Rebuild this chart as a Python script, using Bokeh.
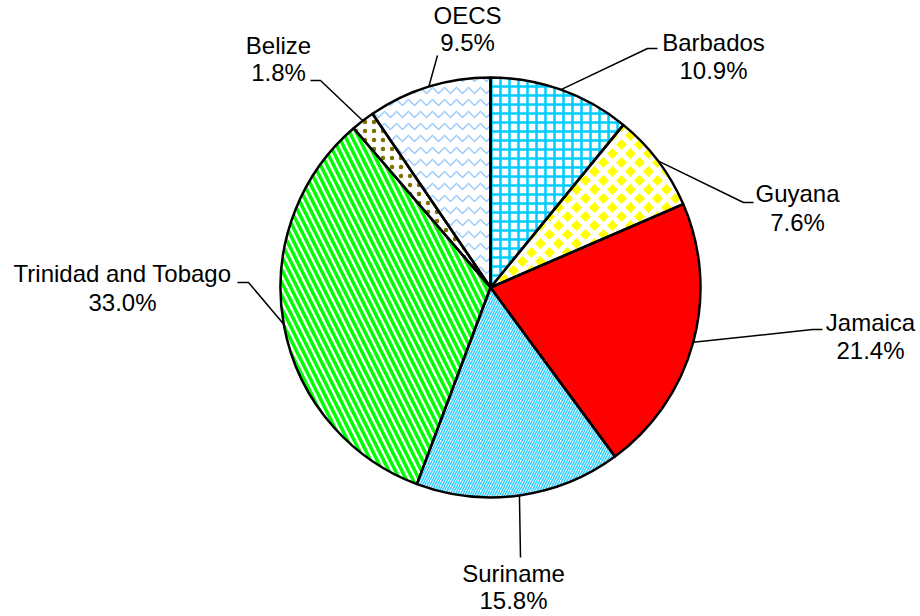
import math
from bokeh.plotting import figure
from bokeh.models import Range1d, ColumnDataSource
from bokeh.core.properties import value
from bokeh.embed import file_html
from bokeh.resources import INLINE

# ---- data ----
countries = ["Barbados", "Guyana", "Jamaica", "Suriname", "Trinidad and Tobago", "Belize", "OECS"]
shares = [10.9, 7.6, 21.4, 15.8, 33.0, 1.8, 9.5]

# ---- styles ----
fills = ["white", "#FFFF00", "#FF0000", "white", "white", "white", "white"]
hatches = ["+", "x", " ", "/", "\\", ".", "v"]
hatch_colors = ["#00CCFF", "white", "#FF0000", "#33CCFF", "#00FF00", "#807000", "#99CCFF"]
hatch_scales = [9, 18, 8, 5, 13, 9, 12]
hatch_weights = [2.5, 5, 1, 1.5, 3.5, 2, 1.5]

# ---- layout (image-pixel coordinates of label elbows / text) ----
W, H = 920, 616
cx, cy, R = 490, 287, 210
elbows = [[(647, 48), (657, 48)], [(743, 202), (753, 202)], [(812, 329), (822, 329)],
          [(520, 557)], [(248, 282), (237, 282)], [(320, 80), (310, 80)], [(437, 55)]]
text_pos = [(713, 42, 70), (797, 193, 222), (870, 322, 350), (513, 573, 600),
            (122, 273, 302), (278, 45, 72), (467, 15, 42)]


def Y(y):  # image y -> data y
    return H - y


p = figure(width=W, height=H, output_backend="svg", toolbar_location=None,
           x_range=Range1d(0, W), y_range=Range1d(0, H),
           x_axis_location=None, y_axis_location=None, min_border=0)
p.grid.visible = False
p.outline_line_color = None
p.background_fill_color = "white"

total = sum(shares)
cum = 0.0
starts, ends, mids = [], [], []
for v in shares:
    a0 = math.pi / 2 - 2 * math.pi * (cum + v) / total
    a1 = math.pi / 2 - 2 * math.pi * cum / total
    mids.append(2 * math.pi * (cum + v / 2) / total)
    starts.append(a0)
    ends.append(a1)
    cum += v

src = ColumnDataSource(dict(x=[cx] * len(shares), y=[Y(cy)] * len(shares), start=starts, end=ends,
                            fill=fills, hatch=hatches, hc=hatch_colors, hs=hatch_scales, hw=hatch_weights))
p.wedge(x="x", y="y", radius=R, start_angle="start", end_angle="end", source=src,
        fill_color="fill", hatch_pattern="hatch", hatch_color="hc", hatch_scale="hs",
        hatch_weight="hw", line_color=None)
p.wedge(x="x", y="y", radius=R, start_angle="start", end_angle="end", source=src,
        fill_color=None, line_color="black", line_width=2.5)

# leader lines
for i, m in enumerate(mids):
    sx = cx + R * math.sin(m)
    sy = cy - R * math.cos(m)
    xs = [sx] + [e[0] for e in elbows[i]]
    ys = [Y(sy)] + [Y(e[1]) for e in elbows[i]]
    p.line(xs, ys, line_color="black", line_width=1.5)

# labels
tx = [t[0] for t in text_pos]
p.text(x=tx, y=[Y(t[1]) for t in text_pos], text=countries, text_align="center",
       text_baseline="middle", text_font=value("Liberation Sans"), text_font_size="24px",
       text_color="black")
p.text(x=tx, y=[Y(t[2]) for t in text_pos], text=[f"{v:.1f}%" for v in shares],
       text_align="center", text_baseline="middle", text_font=value("Liberation Sans"),
       text_font_size="24px", text_color="black")

open("out.html", "w").write(file_html(p, INLINE))
